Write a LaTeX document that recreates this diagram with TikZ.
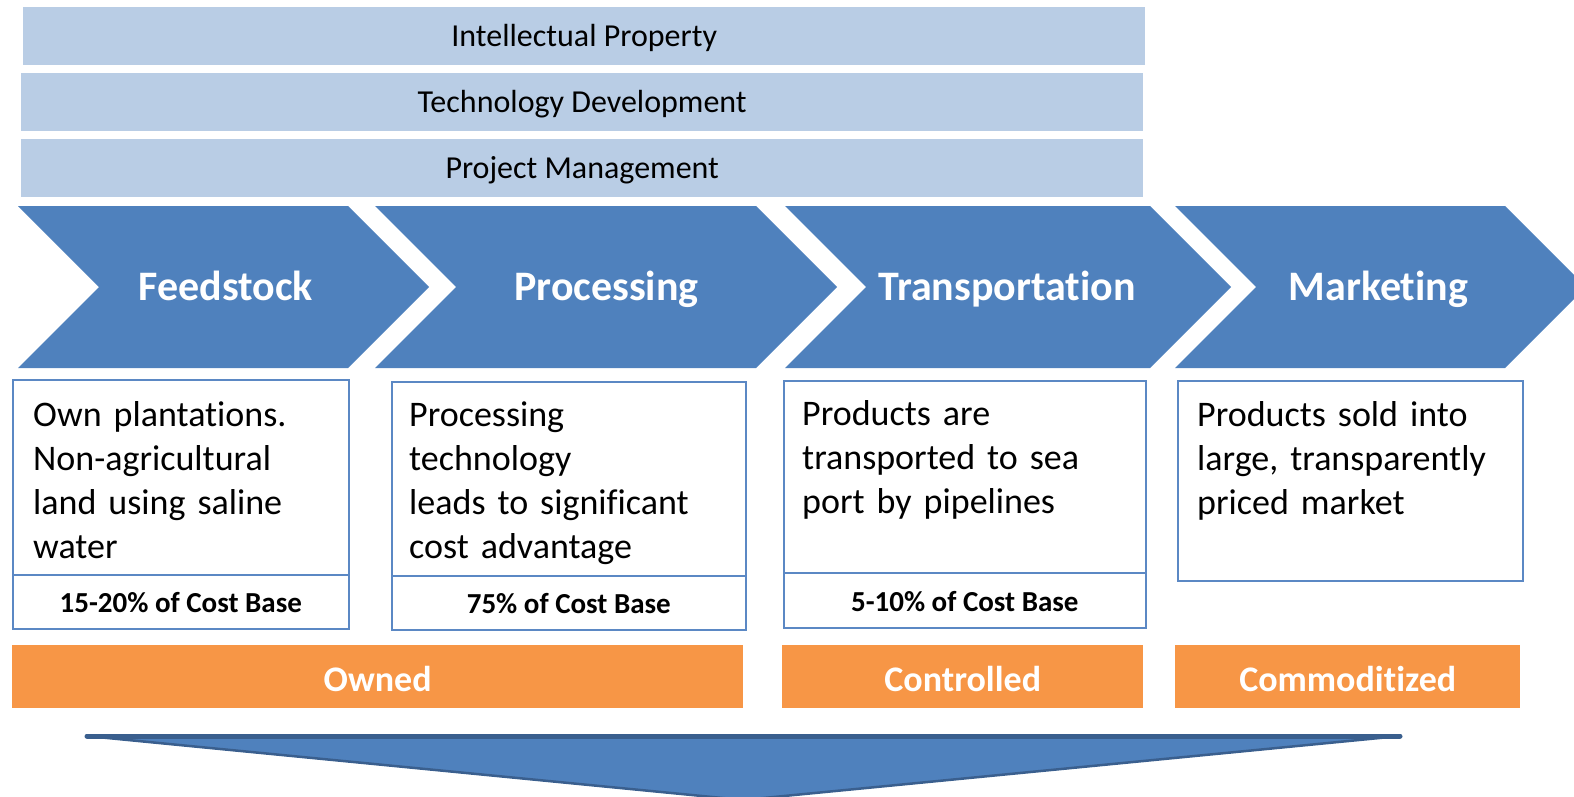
\documentclass[tikz,border=0pt]{standalone}
\usepackage{fontspec}
\setmainfont{Carlito}[Ligatures={NoCommon,NoRequired,NoContextual}]
\definecolor{supportfill}{HTML}{B9CDE5}
\definecolor{stepblue}{HTML}{4F81BD}
\definecolor{boxedge}{HTML}{5B88C4}
\definecolor{tagorange}{HTML}{F79646}
\definecolor{arrowedge}{HTML}{3A5F8E}
\begin{document}
\begin{tikzpicture}[x=1pt,y=-1pt,
  supportbar/.style={fill=supportfill, inner sep=0pt, anchor=north west,
    font=\fontsize{32}{38}\selectfont, text height=21pt, text depth=0pt},
  chevron/.style={fill=stepblue},
  chevlabel/.style={text=white, inner sep=0pt,
    font=\fontsize{42}{50}\selectfont\bfseries, text height=27pt, text depth=0pt},
  descbox/.style={draw=boxedge, line width=1.6pt, fill=white, inner sep=0pt, anchor=north west},
  desctext/.style={inner sep=0pt, anchor=base west, text width=340pt, align=left,
    font=\fontsize{36}{44.2}\selectfont},
  costbox/.style={draw=boxedge, line width=1.6pt, fill=white, inner sep=0pt, anchor=north west,
    font=\fontsize{29}{34}\selectfont\bfseries, text height=21.5pt, text depth=0pt},
  tagbar/.style={fill=tagorange, inner sep=0pt, anchor=north west, text=white,
    font=\fontsize{36}{42}\selectfont\bfseries, text height=29pt, text depth=0pt},
  flowarrow/.style={fill=stepblue, draw=arrowedge, line width=2.5pt, line join=round}
]
\useasboundingbox (0,0) rectangle (1574,797);

% support activities
\node[supportbar, minimum width=1122pt, minimum height=58pt] (ip) at (23,7) {Intellectual Property};
\node[supportbar, minimum width=1122pt, minimum height=58pt] (tech) at (21,73) {Technology Development};
\node[supportbar, minimum width=1122pt, minimum height=58pt] (pm) at (21,139) {Project Management};

% primary activities as chevrons
\path[chevron] (18,206) -- (348,206) -- (429,287) -- (348,368) -- (18,368) -- (99,287) -- cycle;
\path[chevron] (375,206) -- (756,206) -- (837,287) -- (756,368) -- (375,368) -- (456,287) -- cycle;
\path[chevron] (785,206) -- (1150,206) -- (1231,287) -- (1150,368) -- (785,368) -- (866,287) -- cycle;
\path[chevron] (1175,206) -- (1505,206) -- (1586,287) -- (1505,368) -- (1175,368) -- (1256,287) -- cycle;
\node[chevlabel] (feed) at (226,287) {Feedstock};
\node[chevlabel] (proc) at (606.5,287) {Processing};
\node[chevlabel] (trans) at (1007,287) {Transportation};
\node[chevlabel] (mkt) at (1378.5,287) {Marketing};

% descriptions
\node[descbox, minimum width=336pt, minimum height=195pt] (feedbox) at (12,379) {};
\node[costbox, minimum width=336pt, minimum height=54pt] (feedcost) at (12,574) {15-20\% of Cost Base};
\node[desctext] (feedtext) at (33,426) {Own plantations.\\Non-agricultural\\land using saline\\water};

\node[descbox, minimum width=354pt, minimum height=194pt] (procbox) at (391,381) {};
\node[costbox, minimum width=354pt, minimum height=54pt] (proccost) at (391,575) {75\% of Cost Base};
\node[desctext] (proctext) at (409,426) {Processing\\technology\\leads to significant\\cost advantage};

\node[descbox, minimum width=362pt, minimum height=192pt] (transbox) at (783,380) {};
\node[costbox, minimum width=362pt, minimum height=55pt] (transcost) at (783,572) {5-10\% of Cost Base};
\node[desctext] (transtext) at (802,425) {Products are\\transported to sea\\port by pipelines};

\node[descbox, minimum width=345pt, minimum height=200pt] (mktbox) at (1177,380) {};
\node[desctext] (mkttext) at (1197,426) {Products sold into\\large, transparently\\priced market};

% control categories
\node[tagbar, minimum width=731pt, minimum height=63pt] (owned) at (12,645) {Owned};
\node[tagbar, minimum width=361pt, minimum height=63pt] (controlled) at (782,645) {Controlled};
\node[tagbar, minimum width=345pt, minimum height=63pt] (commod) at (1175,645) {Commoditized};

% downward arrow
\coordinate (arrL) at (87,736);
\coordinate (arrR) at (1400,736);
\coordinate (arrTip) at (743,800);
\filldraw[flowarrow] (arrL) -- (arrR) -- (arrTip) -- cycle;
\draw[arrowedge, line width=5pt, line cap=round] (arrL) -- (arrR);
\end{tikzpicture}
\end{document}
